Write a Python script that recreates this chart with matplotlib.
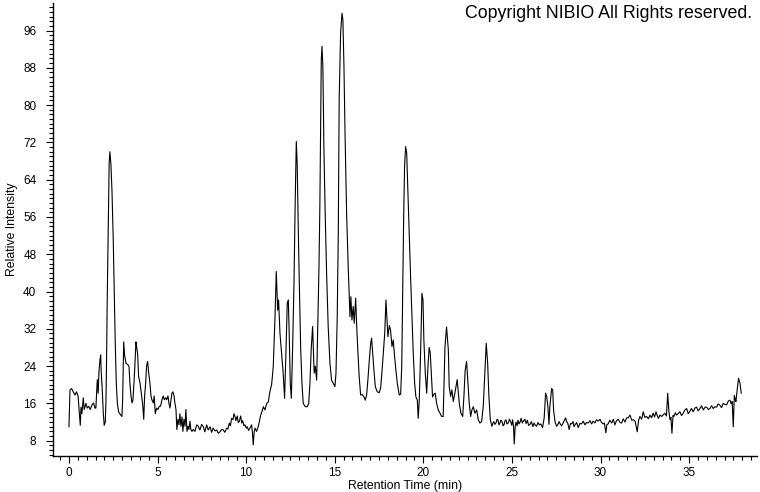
import matplotlib
matplotlib.use('Agg')
import matplotlib.pyplot as plt
from matplotlib.ticker import MultipleLocator

# chromatogram, in three pieces
rt_early = [0.00, 0.06, 0.15, 0.24, 0.34, 0.43, 0.52, 0.58, 0.64, 0.68, 0.73, 0.81, 0.86, 0.96,
            1.03, 1.11, 1.20, 1.30, 1.39, 1.47, 1.52, 1.56, 1.60, 1.65, 1.69, 1.75, 1.79, 1.82,
            1.88, 1.94, 1.99, 2.05, 2.09, 2.13, 2.16, 2.22, 2.27, 2.31, 2.37, 2.43, 2.50, 2.56,
            2.61, 2.67, 2.73, 2.80, 2.92, 2.99, 3.03, 3.09, 3.14, 3.22, 3.33, 3.39, 3.44, 3.50,
            3.56, 3.61, 3.67, 3.72, 3.78, 3.82, 3.88, 3.93, 4.01, 4.08, 4.16, 4.22, 4.27, 4.33,
            4.38, 4.44, 4.50, 4.57, 4.63, 4.68, 4.76, 4.81, 4.87, 4.95, 5.02, 5.10, 5.17, 5.25,
            5.32, 5.38, 5.46, 5.51, 5.59, 5.64, 5.70, 5.76, 5.81, 5.87, 5.93, 5.98, 6.04, 6.09,
            6.15, 6.21, 6.26, 6.32, 6.38, 6.43, 6.49, 6.55, 6.60, 6.66, 6.72, 6.77, 6.83, 6.88,
            6.94, 7.01, 7.11, 7.21, 7.30, 7.39, 7.49, 7.58, 7.67, 7.77, 7.86, 7.96, 8.05, 8.14,
            8.24, 8.34, 8.43, 8.52, 8.62, 8.71, 8.80, 8.90, 8.97, 9.05, 9.11, 9.18, 9.26, 9.31,
            9.37, 9.42, 9.50, 9.55, 9.61, 9.69, 9.75, 9.80, 9.88, 9.93, 10.01, 10.06, 10.14,
            10.21, 10.31, 10.36, 10.40, 10.45]
int_early = [11.0, 18.9, 19.2, 18.5, 17.8, 18.5, 17.5, 14.2, 11.3, 15.2, 13.8, 17.2, 14.7, 16.0,
             15.0, 15.4, 14.7, 15.7, 16.1, 15.0, 15.0, 18.2, 21.1, 18.2, 22.6, 25.3, 26.4, 22.8,
             18.9, 13.8, 11.3, 12.0, 16.7, 27.5, 38.2, 55.0, 67.6, 70.0, 67.2, 61.4, 51.0, 38.9,
             29.6, 20.4, 16.1, 14.2, 13.5, 13.2, 16.7, 29.2, 26.4, 24.6, 24.3, 23.9, 20.4, 17.6,
             16.1, 16.7, 20.4, 24.0, 29.2, 28.2, 26.4, 21.8, 20.4, 18.2, 15.8, 12.6, 17.6, 20.4,
             24.0, 25.0, 22.5, 20.4, 17.6, 16.8, 16.1, 17.6, 13.8, 15.0, 14.7, 15.4, 15.4, 16.8,
             17.6, 16.8, 17.2, 16.8, 17.6, 16.1, 15.0, 16.8, 18.2, 18.5, 17.6, 16.1, 14.7, 10.4,
             12.6, 11.4, 13.8, 11.1, 13.1, 10.0, 12.6, 11.1, 14.7, 10.0, 11.1, 10.4, 12.2, 10.4,
             10.0, 10.4, 10.0, 11.4, 11.1, 10.3, 11.5, 11.0, 9.9, 11.4, 10.3, 11.0, 9.8, 10.7,
             10.1, 10.3, 9.6, 9.9, 10.4, 10.3, 9.8, 10.7, 10.5, 11.8, 11.2, 12.8, 12.5, 13.8,
             13.2, 12.3, 13.3, 11.9, 12.1, 13.3, 11.8, 12.3, 11.2, 11.4, 10.7, 11.0, 10.2,
             10.7, 11.4, 9.5, 7.1, 9.8]

rt_mid = [10.50, 10.59, 10.68, 10.74, 10.82, 10.89, 10.97, 11.06, 11.16, 11.25, 11.34, 11.44,
          11.53, 11.63, 11.70, 11.78, 11.83, 11.91, 12.00, 12.09, 12.17, 12.25, 12.32, 12.38,
          12.43, 12.49, 12.55, 12.62, 12.70, 12.77, 12.83, 12.88, 12.94, 13.00, 13.08, 13.15,
          13.22, 13.34, 13.45, 13.53, 13.60, 13.67, 13.75, 13.79, 13.84, 13.90, 13.98, 14.05,
          14.11, 14.16, 14.20, 14.24, 14.28, 14.33, 14.39, 14.46, 14.54, 14.63, 14.73, 14.82,
          14.92, 15.01, 15.07, 15.14, 15.20, 15.25, 15.33, 15.41, 15.46, 15.52, 15.58, 15.67,
          15.76, 15.86, 15.91, 15.97, 16.04, 16.10, 16.18, 16.24, 16.31, 16.38, 16.46, 16.55,
          16.65, 16.72, 16.80, 16.87, 16.95, 17.03, 17.08, 17.14, 17.21, 17.29, 17.40, 17.51,
          17.59, 17.66, 17.74, 17.82, 17.89, 17.95, 18.00, 18.08, 18.15, 18.23, 18.30, 18.38,
          18.45, 18.53, 18.64, 18.72, 18.78, 18.83, 18.89, 18.94, 19.00, 19.06, 19.13, 19.20,
          19.28, 19.36, 19.43, 19.51, 19.58, 19.66, 19.71, 19.77, 19.85, 19.92, 19.98, 20.03,
          20.11, 20.19, 20.26, 20.33, 20.39, 20.47, 20.52, 20.60, 20.67, 20.75, 20.84, 20.94,
          21.03, 21.12, 21.22, 21.31, 21.41, 21.46, 21.54, 21.61, 21.69, 21.78, 21.91, 22.03,
          22.12, 22.22, 22.29, 22.36, 22.44, 22.52, 22.59, 22.67, 22.74, 22.82, 22.91, 23.01,
          23.10, 23.19, 23.29, 23.38, 23.48, 23.55, 23.63, 23.70, 23.78, 23.87, 23.93, 23.98,
          24.04, 24.10, 24.16, 24.21, 24.27, 24.32, 24.38, 24.44, 24.50, 24.55, 24.61, 24.66,
          24.72, 24.79, 24.86, 24.93, 24.99, 25.04, 25.09, 25.13, 25.18]
int_mid = [10.7, 10.0, 11.0, 12.0, 13.5, 14.2, 15.3, 14.6, 16.0, 16.3, 18.5, 20.1,
           23.9, 34.6, 44.3, 36.0, 38.2, 31.0, 26.8, 22.5, 17.1, 27.5, 37.5, 38.2,
           31.0, 20.3, 17.1, 27.5, 41.8, 59.6, 72.2, 67.5, 53.9, 41.8, 27.5, 20.3,
           16.0, 15.3, 15.3, 16.0, 20.3, 27.5, 32.5, 28.2, 22.5, 24.0, 21.0, 33.9,
           45.3, 58.2, 74.0, 89.7, 92.6, 88.3, 70.4, 56.8, 44.0, 32.5, 24.6, 21.0,
           20.3, 19.6, 22.5, 34.6, 52.5, 81.1, 95.4, 99.7, 98.3, 88.3, 74.0, 56.8,
           45.3, 34.6, 38.9, 33.9, 36.8, 33.2, 38.6, 32.5, 26.8, 21.7, 17.8, 17.9,
           17.4, 16.7, 17.8, 21.0, 25.3, 28.9, 30.0, 26.8, 23.2, 19.6, 18.5, 18.3,
           19.3, 22.5, 26.8, 31.0, 38.2, 33.9, 30.3, 32.7, 31.7, 28.2, 29.6, 26.0,
           23.2, 20.3, 17.8, 18.0, 23.9, 38.2, 56.1, 66.8, 71.1, 69.7, 61.1, 52.5,
           43.2, 34.6, 26.8, 20.3, 17.4, 16.7, 12.8, 16.7, 27.5, 39.6, 38.2, 29.6,
           22.5, 18.2, 23.9, 28.0, 26.8, 21.0, 17.4, 18.0, 18.2, 16.0, 14.6, 13.9,
           13.2, 13.2, 28.1, 32.4, 27.5, 19.6, 17.5, 18.9, 16.4, 18.2, 21.1, 16.0,
           13.9, 13.2, 17.5, 23.1, 25.0, 20.3, 16.0, 13.2, 14.6, 15.3, 13.9, 14.6,
           12.5, 11.8, 12.1, 15.3, 23.1, 28.9, 24.6, 17.5, 12.5, 11.1, 11.8, 12.1,
           11.5, 11.8, 12.6, 12.5, 11.4, 11.8, 12.4, 12.1, 11.2, 11.4, 12.3, 12.5,
           11.6, 11.8, 12.6, 12.1, 11.3, 12.5, 11.0, 7.3, 10.9]

rt_late = [25.23, 25.29, 25.34, 25.40, 25.45, 25.52, 25.59, 25.66, 25.73, 25.80, 25.87, 25.94,
           26.02, 26.10, 26.18, 26.25, 26.32, 26.39, 26.47, 26.55, 26.63, 26.73, 26.82, 26.90,
           26.96, 27.03, 27.09, 27.14, 27.24, 27.30, 27.35, 27.43, 27.52, 27.61, 27.66, 27.71,
           27.80, 27.89, 27.96, 28.03, 28.09, 28.14, 28.23, 28.30, 28.37, 28.45, 28.50, 28.56,
           28.65, 28.74, 28.83, 28.93, 29.02, 29.12, 29.20, 29.31, 29.40, 29.50, 29.58, 29.68,
           29.77, 29.87, 29.97, 30.06, 30.15, 30.22, 30.30, 30.36, 30.43, 30.52, 30.63, 30.72,
           30.81, 30.90, 31.00, 31.10, 31.19, 31.28, 31.38, 31.47, 31.56, 31.66, 31.76, 31.85,
           31.95, 32.07, 32.15, 32.22, 32.32, 32.41, 32.50, 32.60, 32.70, 32.79, 32.88, 32.97,
           33.05, 33.13, 33.20, 33.26, 33.36, 33.45, 33.55, 33.63, 33.72, 33.79, 33.86, 33.92,
           33.97, 34.03, 34.09, 34.14, 34.22, 34.29, 34.38, 34.48, 34.57, 34.67, 34.76, 34.86,
           34.95, 35.04, 35.13, 35.23, 35.32, 35.42, 35.51, 35.61, 35.70, 35.80, 35.90, 35.99,
           36.08, 36.17, 36.27, 36.36, 36.45, 36.55, 36.64, 36.74, 36.83, 36.92, 37.02, 37.12,
           37.21, 37.30, 37.38, 37.43, 37.49, 37.55, 37.60, 37.64, 37.71, 37.79, 37.87, 37.94]
int_late = [12.0, 11.2, 12.4, 11.6, 11.9, 12.8, 11.8, 12.3, 12.6, 11.7, 12.4, 11.3,
            11.5, 12.1, 11.0, 11.8, 11.3, 11.1, 11.9, 11.4, 11.6, 10.8, 12.9, 18.2,
            17.5, 15.3, 11.5, 15.3, 19.2, 18.9, 14.6, 12.1, 11.1, 11.6, 12.1, 11.7,
            11.2, 11.8, 12.4, 12.9, 12.0, 11.9, 10.4, 11.7, 11.6, 12.1, 11.0, 11.4,
            11.9, 10.8, 11.7, 11.6, 12.2, 11.4, 11.9, 11.8, 12.3, 11.6, 12.2, 11.8,
            12.5, 12.2, 12.6, 11.9, 11.6, 11.8, 9.7, 11.5, 11.6, 12.4, 11.8, 12.6,
            11.4, 12.3, 12.6, 11.9, 11.8, 12.7, 12.0, 12.9, 12.9, 13.5, 12.4, 12.5,
            12.2, 9.9, 12.4, 13.2, 12.6, 14.2, 13.0, 13.2, 12.7, 13.5, 12.9, 13.9,
            13.1, 14.2, 13.4, 12.8, 13.5, 13.2, 13.6, 13.9, 13.3, 18.2, 14.2, 12.5,
            13.0, 9.6, 13.4, 13.2, 14.0, 13.5, 13.8, 14.2, 13.4, 13.9, 14.6, 14.9,
            13.8, 14.3, 14.9, 14.2, 15.0, 15.2, 14.4, 14.9, 15.5, 14.6, 15.2, 15.2,
            14.7, 14.9, 15.5, 14.9, 15.3, 15.2, 15.9, 15.6, 15.1, 16.0, 15.8, 15.7,
            16.5, 16.7, 15.9, 16.4, 11.0, 17.7, 16.9, 16.4, 18.9, 21.4, 20.3, 18.2]

rt = rt_early + rt_mid + rt_late
intensity = int_early + int_mid + int_late

plt.rcParams['font.family'] = ['Liberation Sans Narrow', 'Liberation Sans', 'DejaVu Sans']

fig = plt.figure(figsize=(7.6, 4.92), dpi=100)
ax = fig.add_axes([53 / 760, 36 / 492, 704 / 760, 453 / 492])

ax.plot(rt, intensity, color='black', lw=0.8)

ax.set_xlim(-0.9, 38.83)
ax.set_ylim(4.72, 101.9)

ax.spines['top'].set_visible(False)
ax.spines['right'].set_visible(False)
ax.spines['left'].set_linewidth(1.0)
ax.spines['bottom'].set_linewidth(1.0)

ax.xaxis.set_major_locator(MultipleLocator(5))
ax.xaxis.set_minor_locator(MultipleLocator(0.5))
ax.yaxis.set_minor_locator(MultipleLocator(1))
ax.set_yticks(range(8, 97, 8))

ax.tick_params(axis='both', which='major', length=5, width=0.8, labelsize=8.5, color='black')
ax.tick_params(axis='both', which='minor', length=3, width=0.8, color='black')
ax.tick_params(axis='y', which='major', pad=7)
ax.tick_params(axis='x', which='major', pad=3)

ax.set_xlabel('Retention Time (min)', fontsize=8.8, labelpad=1)
ax.set_ylabel('Relative Intensity', fontsize=8.8, labelpad=4)

fig.text(752 / 760, 1 - 14 / 492, 'Copyright NIBIO All Rights reserved.',
         ha='right', va='center', fontsize=12.8, family=['Liberation Sans', 'DejaVu Sans'])

fig.savefig('out.png', dpi=100)
